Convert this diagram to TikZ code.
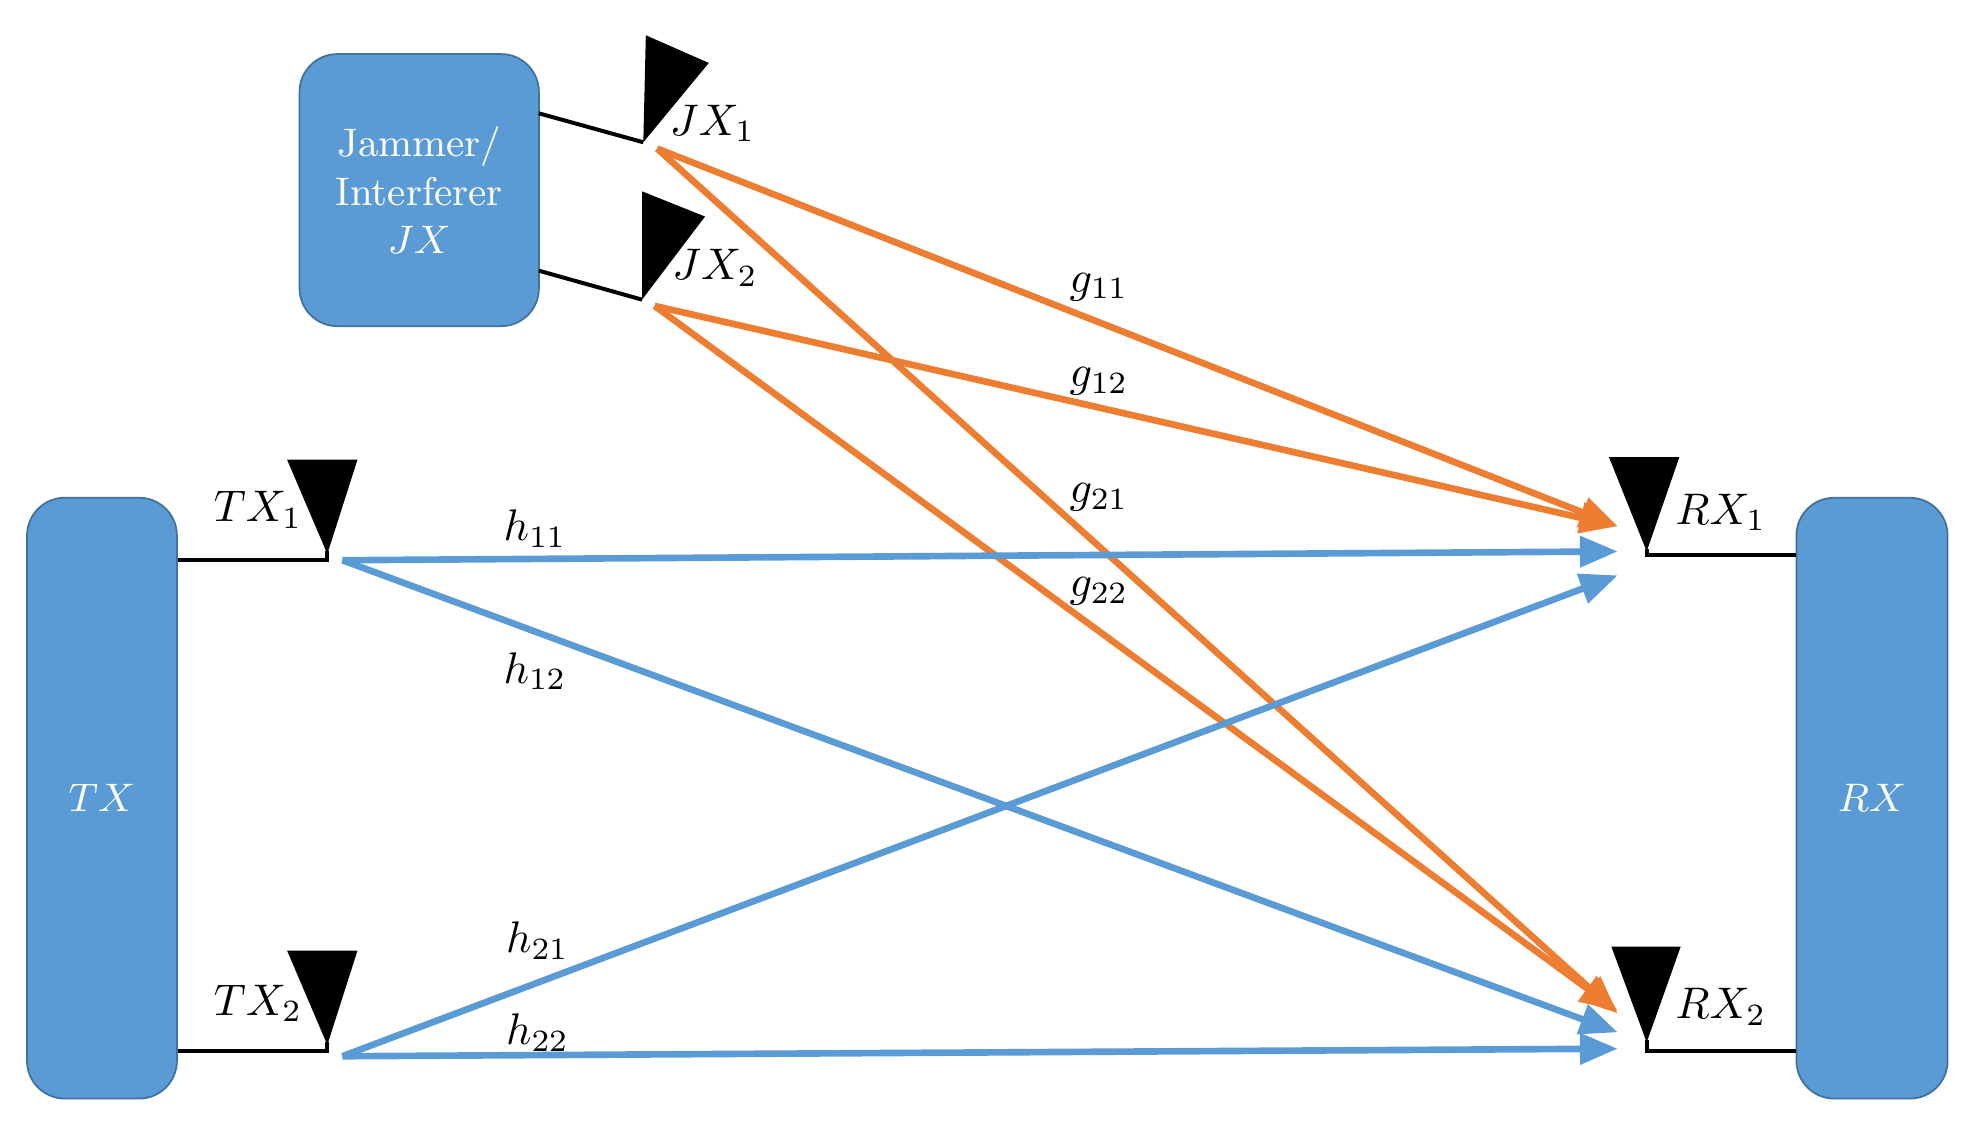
\documentclass[tikz,border=0pt]{standalone}
\usetikzlibrary{positioning}
\usetikzlibrary{arrows.meta}
\definecolor{boxblue}{HTML}{5B9BD5}
\definecolor{boxedge}{HTML}{41719C}
\definecolor{linkorange}{HTML}{ED7D31}
\tikzset{
    unit/.style={draw=boxedge,fill=boxblue,rounded corners=0.3cm,text=white,align=center,inner sep=0pt,font=\small},
    feed/.style={draw=black,line width=0.9pt},
    ant/.style={fill=black},
    hlink/.style={draw=boxblue,line width=1.5pt,-{Triangle[length=0.3cm,width=0.24cm]}},
    glink/.style={draw=linkorange,line width=1.5pt,-{Triangle[length=0.3cm,width=0.24cm]}},
    lbl/.style={inner sep=1pt}
}
\begin{document}
\begin{tikzpicture}[x=0.01cm,y=-0.01cm]
            \useasboundingbox (0,0) rectangle (1568,899);

            % boxes
            \node[unit,minimum width=1.9cm,minimum height=2.16cm] (jx) at (333,151) {Jammer/\\Interferer\\$JX$};
            \node[unit,minimum width=1.19cm,minimum height=4.77cm] (tx) at (81,634) {$TX$};
            \node[unit,minimum width=1.2cm,minimum height=4.77cm] (rx) at (1487,634) {$RX$};

            % antennas
            \coordinate (jx1) at (511,113);
            \coordinate (jx2) at (510,238);
            \coordinate (tx1) at (260,445);
            \coordinate (tx2) at (260,835);
            \coordinate (rx1) at (1308,441);
            \coordinate (rx2) at (1308,835);
            \fill[ant] (jx1) -- (513,28) -- (563,50) -- cycle;
            \fill[ant] (jx2) -- (510,152) -- (560,172) -- cycle;
            \fill[ant] (260,440) -- (228,365) -- (284,365) -- cycle;
            \fill[ant] (260,830) -- (228,755) -- (284,755) -- cycle;
            \fill[ant] (1308,438) -- (1278,363) -- (1334,363) -- cycle;
            \fill[ant] (1308,828) -- (1280,752) -- (1335,752) -- cycle;
            \draw[feed] (428,90) -- (jx1);
            \draw[feed] (428,215) -- (jx2);
            \draw[feed] (tx.east |- tx1) -- (tx1) -- (260,438);
            \draw[feed] (tx.east |- tx2) -- (tx2) -- (260,828);
            \draw[feed] (rx.west |- rx1) -- (rx1) -- (1308,436);
            \draw[feed] (rx.west |- rx2) -- (rx2) -- (1308,826);

            % antenna labels
            \node[lbl] at (566,98) {$JX_1$};
            \node[lbl] at (568,213) {$JX_2$};
            \node[lbl] at (205,405) {$TX_1$};
            \node[lbl] at (205,797) {$TX_2$};
            \node[lbl] at (1367,407) {$RX_1$};
            \node[lbl] at (1367,800) {$RX_2$};

            % links
            \coordinate (jx1s) at (522,118);
            \coordinate (jx2s) at (520,243);
            \coordinate (tx1s) at (272,445);
            \coordinate (tx2s) at (272,839);
            \path[glink] (jx1s) -- (1285,418);
            \path[glink] (jx1s) -- (1285,805);
            \path[glink] (jx2s) -- (1285,418);
            \path[glink] (jx2s) -- (1285,803);
            \path[hlink] (tx1s) -- (1285,438);
            \path[hlink] (tx1s) -- (1285,820);
            \path[hlink] (tx2s) -- (1285,457);
            \path[hlink] (tx2s) -- (1285,833);

            % link labels
            \node[lbl] at (873,228) {$g_{11}$};
            \node[lbl] at (873,303) {$g_{12}$};
            \node[lbl] at (873,395) {$g_{21}$};
            \node[lbl] at (873,470) {$g_{22}$};
            \node[lbl] at (425,420) {$h_{11}$};
            \node[lbl] at (425,533) {$h_{12}$};
            \node[lbl] at (427,747) {$h_{21}$};
            \node[lbl] at (427,820) {$h_{22}$};
        \end{tikzpicture}
\end{document}
